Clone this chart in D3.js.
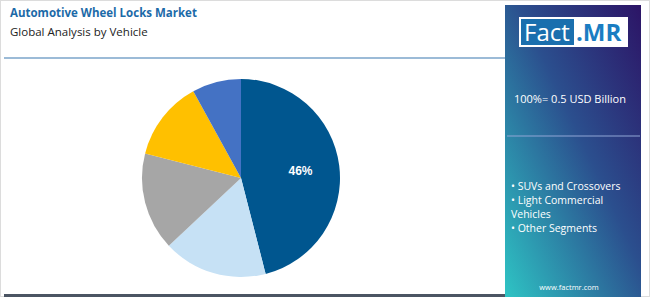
<!DOCTYPE html>
<html>
<head>
<meta charset="utf-8">
<script src="https://cdn.jsdelivr.net/npm/d3@7"></script>
<style>
  body { margin: 0; background: #fff; }
  svg { display: block; font-family: "Open Sans", sans-serif; }
</style>
</head>
<body>
<div id="chart"></div>
<script>
// Data
var segments = ['SUVs and Crossovers', 'Light Commercial Vehicles', 'Other Segments', 'Segment 4', 'Segment 5'];
var shares = [46, 17, 16, 13, 8];
var colors = ['#00568f', '#c6e1f5', '#a6a6a6', '#ffc000', '#4472c4'];
var legendLines = ['• SUVs and Crossovers', '• Light Commercial', 'Vehicles', '• Other Segments'];

var width = 650, height = 297;

var svg = d3.select("#chart")
  .append("svg")
  .attr("width", width)
  .attr("height", height);

// outer frame
svg.append("rect")
  .attr("x", 0.5).attr("y", 0.5)
  .attr("width", width - 1).attr("height", height - 1)
  .attr("fill", "#fff")
  .attr("stroke", "#dcdcdc");

// titles
svg.append("text")
  .attr("x", 10).attr("y", 17)
  .text("Automotive Wheel Locks Market")
  .style("fill", "#1c6aa8")
  .style("font-size", "11.5px")
  .style("font-weight", "bold");

svg.append("text")
  .attr("x", 10).attr("y", 36)
  .text("Global Analysis by Vehicle")
  .style("fill", "#222")
  .style("font-size", "11.5px");

svg.append("line")
  .attr("x1", 4).attr("x2", 505)
  .attr("y1", 58).attr("y2", 58)
  .attr("stroke", "#3b78b0")
  .attr("stroke-width", 1.2);

svg.append("rect")
  .attr("x", 4).attr("y", 294)
  .attr("width", 502).attr("height", 3)
  .attr("fill", "#4b5563");

// pie
var pie = d3.pie().sort(null).value(function(d) { return d; });
var arc = d3.arc().innerRadius(0).outerRadius(99);

var g = svg.append("g")
  .attr("transform", "translate(241,178)");

var arcs = pie(shares);

g.selectAll("path")
  .data(arcs)
  .enter()
  .append("path")
  .attr("d", arc)
  .attr("fill", function(d, i) { return colors[i]; });

var labelArc = d3.arc().innerRadius(60).outerRadius(60);
g.append("text")
  .attr("transform", "translate(" + labelArc.centroid(arcs[0]) + ")")
  .attr("dy", "0.35em")
  .attr("text-anchor", "middle")
  .text(shares[0] + "%")
  .style("fill", "#fff")
  .style("font-family", "Arial, 'Liberation Sans', sans-serif")
  .style("font-size", "12px")
  .style("font-weight", "bold");

// right panel
var defs = svg.append("defs");
var grad = defs.append("linearGradient")
  .attr("id", "panelGrad")
  .attr("x1", "100%").attr("y1", "0%")
  .attr("x2", "0%").attr("y2", "100%");
grad.append("stop").attr("offset", "0%").attr("stop-color", "#2c1466");
grad.append("stop").attr("offset", "45%").attr("stop-color", "#2b4f8e");
grad.append("stop").attr("offset", "100%").attr("stop-color", "#2ec4c4");

svg.append("rect")
  .attr("x", 505).attr("y", 5)
  .attr("width", 136).attr("height", 292)
  .attr("fill", "url(#panelGrad)");

// logo
svg.append("rect")
  .attr("x", 519).attr("y", 17)
  .attr("width", 109).attr("height", 30)
  .attr("fill", "#fff");
svg.append("rect")
  .attr("x", 521).attr("y", 19)
  .attr("width", 53).attr("height", 26)
  .attr("fill", "#1a6fae");
svg.append("text")
  .attr("x", 524).attr("y", 41)
  .text("Fact")
  .style("fill", "#fff")
  .style("font-size", "24px");
svg.append("text")
  .attr("x", 576).attr("y", 41)
  .text(".MR")
  .style("fill", "#1a7dc2")
  .style("font-size", "24px")
  .style("font-weight", "bold");

svg.append("text")
  .attr("x", 514).attr("y", 103)
  .text("100%= 0.5 USD Billion")
  .style("fill", "#fff")
  .style("font-size", "11px");

svg.append("line")
  .attr("x1", 507).attr("x2", 640)
  .attr("y1", 136).attr("y2", 136)
  .attr("stroke", "#8fa6d6")
  .attr("stroke-width", 1.2);

svg.selectAll(".legend")
  .data(legendLines)
  .enter()
  .append("text")
  .attr("class", "legend")
  .attr("x", 511)
  .attr("y", function(d, i) { return 190 + i * 14; })
  .text(function(d) { return d; })
  .style("fill", "#fff")
  .style("font-size", "10.5px");

svg.append("text")
  .attr("x", 569).attr("y", 290)
  .attr("text-anchor", "middle")
  .text("www.factmr.com")
  .style("fill", "#fff")
  .style("font-size", "7.5px");
</script>
</body>
</html>
